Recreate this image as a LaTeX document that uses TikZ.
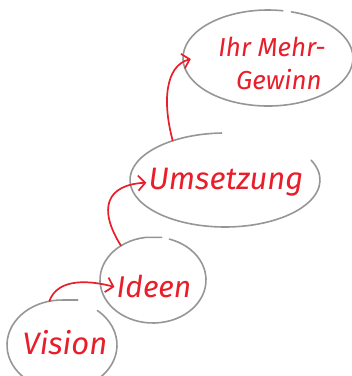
\documentclass[tikz,border=0pt]{standalone}
\usepackage{fontspec}
\setmainfont{Fira Sans}
\usetikzlibrary{shapes.geometric,arrows.meta}
\definecolor{inkred}{RGB}{232,30,42}
\definecolor{ringgray}{RGB}{150,150,150}

\begin{document}
\begin{tikzpicture}[x=1pt,y=1pt,
    ring/.style={ellipse,inner sep=0pt},
    word/.style={text=inkred,inner sep=2pt,font=\itshape\fontsize{31}{33}\selectfont},
    sketch/.style={draw=ringgray,line width=1.6pt,line cap=round},
    link/.style={draw=inkred,line width=1.7pt,line cap=round,
      -{Straight Barb[length=7pt,width=15pt]}}]
  \useasboundingbox (0,0) rectangle (352,376);

  % rings (invisible, only for anchors)
  \node[ring,minimum width=110,minimum height=90] (visionring) at (62,31) {};
  \node[ring,minimum width=106,minimum height=86] (ideenring) at (153,96) {};
  \node[ring,minimum width=190,minimum height=94] (umsetzungring) at (225,196) {};
  \node[ring,minimum width=170,minimum height=98] (gewinnring) at (268,317) {};

  % hand drawn strokes round the rings
  \draw[sketch] ([shift={(88:55 and 45)}]visionring.center) ++(14,0) -- ++(-14,0)
    arc[start angle=88,end angle=410,x radius=55,y radius=45];
  \draw[sketch] ([shift={(98:53 and 43)}]ideenring.center) ++(16,0) -- ++(-16,0)
    arc[start angle=98,end angle=432,x radius=53,y radius=43];
  \draw[sketch] ([shift={(92:95 and 47)}]umsetzungring.center)
    arc[start angle=92,end angle=385,x radius=95,y radius=47];
  \draw[sketch] ([shift={(80:85 and 49)}]gewinnring.center)
    arc[start angle=80,end angle=434,x radius=85,y radius=48];

  % words
  \node[word,anchor=base] (vision) at (65,22) {Vision};
  \node[word,anchor=base,font=\itshape\fontsize{30}{32}\selectfont] (ideen) at (154,78) {Ideen};
  \node[word,anchor=base] (umsetzung) at (226,186) {Umsetzung};
  \node[word,align=center,font=\itshape\fontsize{26}{33}\selectfont] (gewinn) at (272,313)
    {Ihr Mehr-\\\hspace*{14pt}Gewinn};

  % arrows
  \draw[link] (visionring.106) .. controls +(70:25) and +(165:25) .. (ideen.west);
  \draw[link] (ideenring.133) .. controls +(122:44) and +(183:40) .. (umsetzung.west);
  \draw[link] (umsetzungring.143) .. controls +(105:39) and +(195:27) .. ([xshift=8pt]gewinnring.west);
\end{tikzpicture}
\end{document}
